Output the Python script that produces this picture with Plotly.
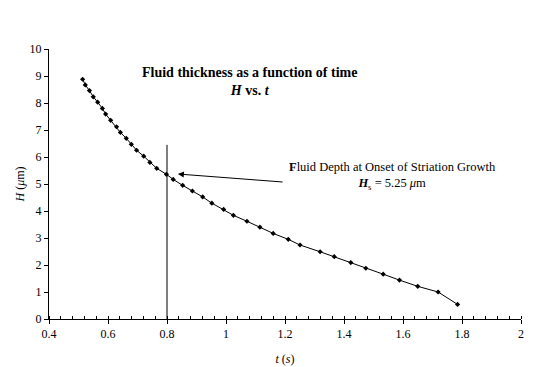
import plotly.graph_objects as go

t_s = [0.514, 0.523, 0.537, 0.550, 0.565, 0.581, 0.592, 0.609, 0.629, 0.642,
       0.662, 0.679, 0.697, 0.721, 0.742, 0.765, 0.798, 0.821, 0.853, 0.886,
       0.921, 0.952, 0.992, 1.025, 1.071, 1.115, 1.160, 1.211, 1.251, 1.319,
       1.367, 1.423, 1.474, 1.533, 1.588, 1.650, 1.719, 1.785]
H_um = [8.88, 8.67, 8.46, 8.23, 8.03, 7.80, 7.59, 7.36, 7.12, 6.91,
        6.69, 6.47, 6.25, 6.03, 5.80, 5.58, 5.36, 5.17, 4.95, 4.74,
        4.52, 4.29, 4.06, 3.84, 3.62, 3.40, 3.17, 2.95, 2.74, 2.49,
        2.31, 2.09, 1.88, 1.66, 1.44, 1.21, 1.00, 0.54]

onset_t = [0.8, 0.8]
onset_H = [0, 6.45]
x_ticks = [0.4, 0.6, 0.8, 1, 1.2, 1.4, 1.6, 1.8, 2]
x_tick_labels = ["0.4", "0.6", "0.8", "1", "1.2", "1.4", "1.6", "1.8", "2"]

FONT = "Liberation Serif, Times New Roman, serif"

fig = go.Figure()
fig.add_trace(go.Scatter(x=t_s, y=H_um, mode="lines+markers",
                         line=dict(color="black", width=1),
                         marker=dict(symbol="diamond", size=4, color="black"),
                         showlegend=False))
fig.add_trace(go.Scatter(x=onset_t, y=onset_H, mode="lines",
                         line=dict(color="black", width=1), showlegend=False))

fig.add_annotation(x=0.837, y=5.37, ax=1.197, ay=5.07, xref="x", yref="y",
                   axref="x", ayref="y", text="", showarrow=True,
                   arrowhead=2, arrowsize=1.2, arrowwidth=1, arrowcolor="black")
fig.add_annotation(x=1.566, y=5.3, xref="x", yref="y", showarrow=False,
                   text="<b>F</b>luid Depth at Onset of Striation Growth<br><b><i>H</i></b><sub>s</sub> = 5.25 <i>μ</i>m",
                   font=dict(family=FONT, size=12.5, color="black"), align="center")
fig.add_annotation(x=1.078, y=8.8, xref="x", yref="y", showarrow=False,
                   text="<b>Fluid thickness as a function of time<br><i>H</i> vs. <i>t</i></b>",
                   font=dict(family=FONT, size=14, color="black"), align="center")

fig.update_layout(
    width=537, height=367,
    margin=dict(l=49, r=16, t=49, b=48),
    paper_bgcolor="white", plot_bgcolor="white",
    font=dict(family=FONT, size=12, color="black"),
    xaxis=dict(range=[0.4, 2], tickvals=x_ticks, ticktext=x_tick_labels,
               automargin=False,
               showgrid=False, zeroline=False, showline=True, linecolor="black",
               linewidth=1, ticks="outside", ticklen=4, tickcolor="black",
               minor=dict(ticks="inside", ticklen=3, dtick=0.04, tickcolor="black", showgrid=False),
               title=dict(text="<i>t</i> (<i>s</i>)", font=dict(size=12), standoff=14)),
    yaxis=dict(range=[0, 10], dtick=1, showgrid=False, zeroline=False,
               automargin=False,
               showline=True, linecolor="black", linewidth=1, ticks="outside",
               ticklen=4, tickcolor="black",
               title=dict(text="<i>H</i> (<i>μ</i>m)", font=dict(size=12), standoff=2)),
)

fig.write_html("out.html", config={"displayModeBar": False},
               post_script="document.body.style.margin='0';document.body.style.overflow='hidden';")
